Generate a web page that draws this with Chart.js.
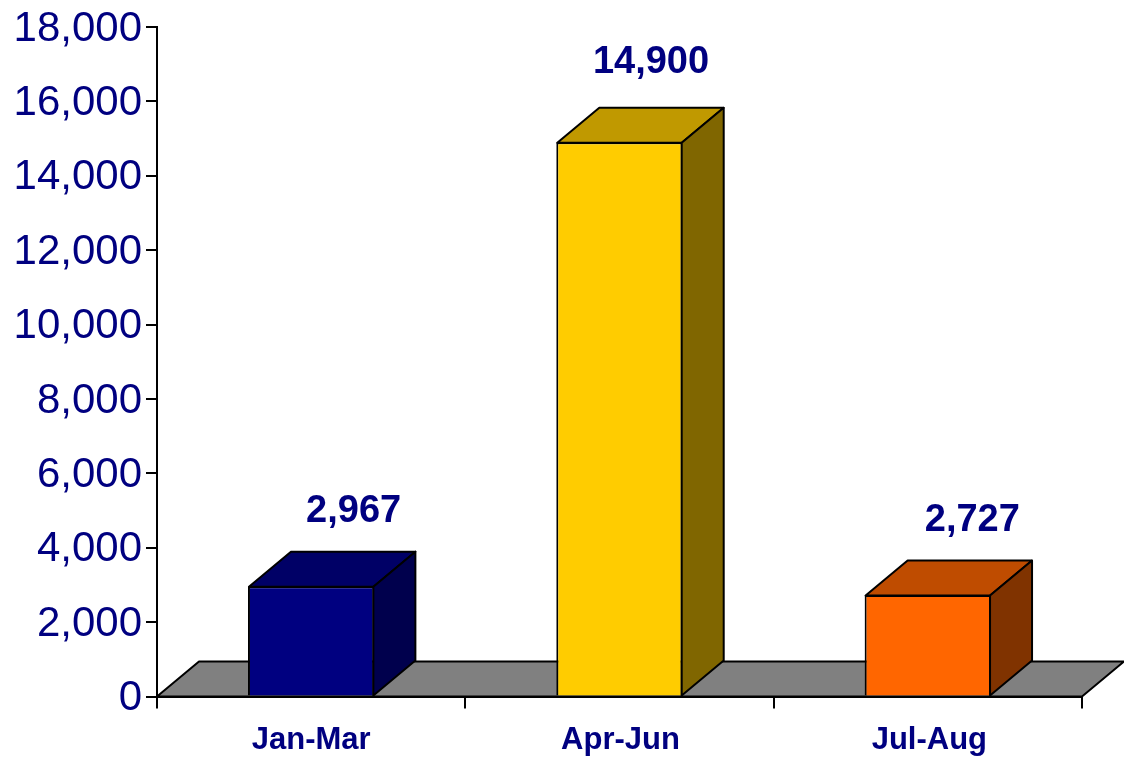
<!DOCTYPE html>
<html>
<head>
<meta charset="utf-8">
<script src="https://cdn.jsdelivr.net/npm/chart.js@4"></script>
<style>
  html, body { margin: 0; padding: 0; background: #fff; overflow: hidden; }
  canvas { display: block; }
</style>
</head>
<body>
<canvas id="myChart" width="1124" height="758"></canvas>
<script>
const categories = ["Jan-Mar", "Apr-Jun", "Jul-Aug"];
const values = [2967, 14900, 2727];
const frontColors = ["#000080", "#FFCC00", "#FF6600"];
const topColors = ["#000066", "#C09900", "#BF4C00"];
const sideColors = ["#00004D", "#806600", "#803300"];

const depthX = 42;
const depthY = 35;
const textColor = "#000080";
// hand nudges for the labels, the source chart placed them unevenly
const labelNudgeX = [0.5, -10.5, 2.5];
const labelNudgeY = [0, -5, 0];
const categoryNudgeX = [0, 1, 1.5];

function face(ctx, points, fill) {
  ctx.beginPath();
  ctx.moveTo(points[0][0], points[0][1]);
  points.slice(1).forEach(function (p) { ctx.lineTo(p[0], p[1]); });
  ctx.closePath();
  ctx.fillStyle = fill;
  ctx.fill();
  ctx.strokeStyle = "#000";
  ctx.lineWidth = 2;
  ctx.lineJoin = "round";
  ctx.stroke();
}

const box3d = {
  id: "box3d",
  beforeDraw(chart) {
    // tick labels sit a little off in the source, chart.js has no option for it
    chart.scales.y.getLabelItems(chart.chartArea).forEach(function (item) {
      if (!item.nudged) {
        item.options.translation[1] += 2;
        item.nudged = true;
      }
    });
    chart.scales.x.getLabelItems(chart.chartArea).forEach(function (item, i) {
      if (!item.nudged) {
        item.options.translation[0] += categoryNudgeX[i];
        item.nudged = true;
      }
    });
  },
  beforeDatasetsDraw(chart) {
    const ctx = chart.ctx;
    const a = chart.chartArea;
    ctx.save();
    face(ctx, [[a.left, a.bottom], [a.right, a.bottom], [a.right + depthX, a.bottom - depthY], [a.left + depthX, a.bottom - depthY]], "#808080");
    ctx.restore();
  },
  afterDatasetsDraw(chart) {
    const ctx = chart.ctx;
    ctx.save();
    chart.getDatasetMeta(0).data.forEach(function (bar, i) {
      const left = bar.x - bar.width / 2 + 1;
      const right = bar.x + bar.width / 2 - 1;
      const top = bar.y + 0.5;
      face(ctx, [[left, top], [right, top], [right + depthX, top - depthY], [left + depthX, top - depthY]], topColors[i]);
      face(ctx, [[right, top], [right + depthX, top - depthY], [right + depthX, bar.base - depthY], [right, bar.base]], sideColors[i]);
      ctx.fillStyle = textColor;
      ctx.font = "bold 38px 'Liberation Sans'";
      ctx.textAlign = "center";
      ctx.textBaseline = "alphabetic";
      ctx.fillText(values[i].toLocaleString("en-US"), bar.x + depthX + labelNudgeX[i], bar.y - 64 + labelNudgeY[i]);
    });
    ctx.restore();
  }
};

new Chart(document.getElementById("myChart").getContext("2d"), {
  type: "bar",
  data: {
    labels: categories,
    datasets: [{
      data: values,
      backgroundColor: frontColors,
      borderColor: "#000",
      borderWidth: 2,
      barPercentage: 0.41,
      categoryPercentage: 1
    }]
  },
  options: {
    responsive: false,
    animation: false,
    layout: { padding: { top: 27, right: 42 } },
    plugins: { legend: { display: false }, tooltip: { enabled: false } },
    scales: {
      x: {
        afterFit(scale) { scale.height = 61.5; },
        border: { color: "#000", width: 2 },
        grid: { display: true, drawOnChartArea: false, drawTicks: true, offset: true, tickLength: 12, color: "#000", lineWidth: 2 },
        ticks: { color: textColor, font: { family: "'Liberation Sans'", size: 31, weight: "bold" }, padding: 13, maxRotation: 0 }
      },
      y: {
        min: 0,
        max: 18000,
        afterFit(scale) {
          scale.width = 157;
          scale.paddingTop = 0;
          scale.paddingBottom = 0;
        },
        border: { color: "#000", width: 2 },
        grid: { drawOnChartArea: false, drawTicks: true, tickLength: 11, color: "#000", lineWidth: 2 },
        ticks: {
          stepSize: 2000,
          color: textColor,
          padding: 4,
          font: { family: "'Liberation Sans'", size: 42 },
          callback: function (v) { return v.toLocaleString("en-US"); }
        }
      }
    }
  },
  plugins: [box3d]
});
</script>
</body>
</html>
